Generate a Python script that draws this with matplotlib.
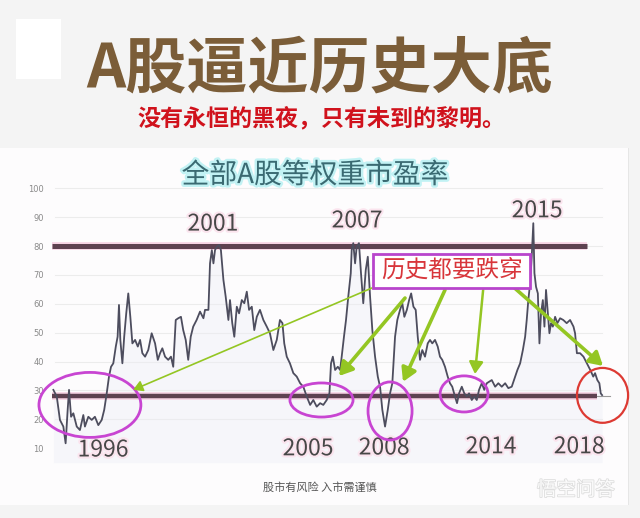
import matplotlib
matplotlib.use("Agg")
import matplotlib.pyplot as plt
import matplotlib.patheffects as pe
from matplotlib.patches import Ellipse, Rectangle

plt.rcParams['font.family'] = ['Noto Sans CJK SC', 'DejaVu Sans']

# ---- data: all-A-share equal-weight PE (decimal year, PE) ----
years = [1994.36, 1994.51, 1994.65, 1994.80, 1994.90, 1994.99, 1995.05, 1995.14, 1995.24, 1995.39,
         1995.53, 1995.68, 1995.75, 1995.90, 1996.05, 1996.19, 1996.34, 1996.49, 1996.60, 1996.71,
         1996.81, 1996.90, 1997.00, 1997.11, 1997.19, 1997.25, 1997.31, 1997.40, 1997.48, 1997.57,
         1997.66, 1997.75, 1997.84, 1997.96, 1998.08, 1998.18, 1998.28, 1998.40, 1998.54, 1998.69,
         1998.84, 1998.96, 1999.06, 1999.16, 1999.28, 1999.42, 1999.54, 1999.64, 1999.75, 1999.86,
         1999.98, 2000.08, 2000.19, 2000.30, 2000.41, 2000.52, 2000.67, 2000.82, 2000.97, 2001.04,
         2001.19, 2001.26, 2001.34, 2001.41, 2001.48, 2001.56, 2001.66, 2001.74, 2001.85, 2001.95,
         2002.07, 2002.14, 2002.24, 2002.33, 2002.44, 2002.54, 2002.66, 2002.77, 2002.88, 2002.98,
         2003.10, 2003.21, 2003.32, 2003.46, 2003.61, 2003.76, 2003.90, 2004.05, 2004.20, 2004.34,
         2004.45, 2004.53, 2004.64, 2004.78, 2004.93, 2005.08, 2005.23, 2005.37, 2005.52, 2005.67,
         2005.81, 2005.96, 2006.11, 2006.25, 2006.40, 2006.52, 2006.59, 2006.67, 2006.77, 2006.89,
         2006.99, 2007.06, 2007.16, 2007.25, 2007.35, 2007.46, 2007.50, 2007.57, 2007.65, 2007.72,
         2007.82, 2007.91, 2008.01, 2008.12, 2008.21, 2008.31, 2008.41, 2008.53, 2008.65, 2008.75,
         2008.85, 2008.97, 2009.09, 2009.19, 2009.29, 2009.41, 2009.51, 2009.63, 2009.73, 2009.82,
         2009.93, 2010.03, 2010.12, 2010.22, 2010.32, 2010.41, 2010.51, 2010.61, 2010.73, 2010.85,
         2010.95, 2011.05, 2011.17, 2011.29, 2011.39, 2011.49, 2011.61, 2011.73, 2011.83, 2011.93,
         2012.05, 2012.14, 2012.23, 2012.35, 2012.46, 2012.57, 2012.67, 2012.79, 2012.90, 2013.01,
         2013.11, 2013.23, 2013.34, 2013.45, 2013.67, 2013.82, 2013.96, 2014.11, 2014.26, 2014.40,
         2014.55, 2014.70, 2014.80, 2014.92, 2015.04, 2015.14, 2015.21, 2015.28, 2015.36, 2015.43,
         2015.50, 2015.55, 2015.62, 2015.70, 2015.77, 2015.84, 2015.92, 2015.99, 2016.06, 2016.14,
         2016.21, 2016.28, 2016.36, 2016.46, 2016.56, 2016.68, 2016.82, 2016.97, 2017.12, 2017.27,
         2017.34, 2017.42, 2017.56, 2017.71, 2017.86, 2018.01, 2018.14, 2018.22, 2018.32, 2018.41,
         2018.47, 2018.53]
pe_ratio = [30.2, 27.9, 19.8, 17.5, 11.7, 23.3, 30.2, 20.9, 22.1, 17.5,
            16.3, 21.5, 17.5, 20.9, 19.8, 20.9, 18.0, 19.8, 23.3, 29.0,
            34.8, 38.2, 39.4, 45.2, 48.6, 59.6, 47.5, 39.4, 48.6, 56.7,
            63.6, 55.5, 46.3, 47.5, 45.2, 47.5, 42.9, 41.7, 44.0, 49.8,
            46.3, 40.6, 42.9, 44.6, 41.7, 40.6, 41.7, 38.2, 54.4, 55.0,
            55.5, 50.9, 47.5, 40.6, 48.6, 52.1, 54.4, 57.3, 55.0, 57.9,
            57.9, 74.0, 78.6, 74.0, 78.6, 79.8, 80.4, 78.6, 68.3, 62.5,
            54.4, 61.3, 53.3, 48.6, 59.0, 56.7, 61.3, 60.2, 64.2, 57.9,
            59.0, 50.9, 55.5, 57.9, 54.4, 52.1, 49.8, 44.0, 47.5, 54.4,
            53.3, 46.3, 41.7, 39.4, 36.0, 34.8, 32.5, 31.3, 27.9, 25.0,
            26.7, 24.4, 25.6, 25.0, 26.7, 29.0, 39.4, 41.7, 37.1, 38.2,
            37.1, 41.7, 48.6, 54.4, 62.5, 70.6, 78.6, 81.0, 74.0, 79.8,
            81.0, 70.6, 60.2, 71.7, 76.3, 62.5, 50.9, 41.7, 34.8, 31.3,
            23.3, 17.5, 23.3, 29.0, 32.5, 48.6, 54.4, 57.9, 60.2, 55.5,
            57.9, 61.3, 63.6, 59.0, 57.9, 48.6, 40.6, 44.0, 41.7, 46.3,
            47.5, 46.3, 47.5, 45.2, 41.7, 40.6, 38.2, 34.8, 32.5, 31.3,
            27.9, 25.6, 29.0, 31.3, 29.0, 27.9, 29.0, 26.7, 27.9, 26.7,
            30.2, 32.5, 30.2, 32.5, 33.6, 31.3, 32.5, 31.3, 32.5, 30.8,
            31.3, 34.8, 37.1, 39.4, 44.0, 48.6, 54.4, 61.3, 67.1, 76.3,
            87.9, 70.6, 65.9, 63.6, 46.3, 56.7, 61.3, 52.1, 64.8, 56.7,
            49.8, 53.3, 52.1, 55.5, 53.3, 55.0, 54.4, 53.3, 54.4, 52.1,
            49.8, 42.9, 42.9, 41.7, 39.4, 37.1, 34.8, 36.0, 33.6, 32.5,
            29.0, 28.4]

yticks = [10, 20, 30, 40, 50, 60, 70, 80, 90, 100]
upper_line = 80
lower_line = 28.1
peak_labels = ["2001", "2007", "2015"]
peak_pos = [(2001.39, 87.6), (2007.74, 88.7), (2015.67, 92.2)]
bottom_labels = ["1996", "2005", "2008", "2014", "2018"]
bottom_pos = [(1996.55, 9.4), (2005.58, 9.8), (2008.93, 10.1), (2013.64, 10.5), (2017.52, 10.5)]

title = "A股逼近历史大底"
subtitle = "没有永恒的黑夜，只有未到的黎明。"
chart_title = "全部A股等权重市盈率"
box_text = "历史都要跌穿"
footer = "股市有风险 入市需谨慎"
watermark = "悟空问答"

# ---- figure ----
fig = plt.figure(figsize=(6.4, 5.18), dpi=100, facecolor="#f4f4f4")
# white chart panel
fig.patches.append(Rectangle((0, 0.025), 0.982, 0.69, transform=fig.transFigure,
                             facecolor="#fdfcfd", edgecolor="none", zorder=-10))
fig.patches.append(Rectangle((0.981, 0.025), 0.002, 0.69, transform=fig.transFigure,
                             facecolor="#e6e6e6", edgecolor="none", zorder=-10))
# white square icon top-left
fig.patches.append(Rectangle((0.025, 0.848), 0.07, 0.115, transform=fig.transFigure,
                             facecolor="#ffffff", edgecolor="none", zorder=-10))

ax = fig.add_axes([0.08125, 0.1068, 0.86875, 0.5409])
ax.set_facecolor("none")
ax.set_xlim(1994.3, 2018.79)
ax.set_ylim(5, 102)
for s in ax.spines.values():
    s.set_visible(False)
ax.set_xticks([])
ax.set_yticks(yticks)
ax.set_yticklabels([str(t) for t in yticks], fontsize=6, color="#8a8a8a",
                   family=['DejaVu Sans'])
ax.tick_params(axis='y', length=0, pad=6)
for t in yticks[1:]:
    ax.axhline(t, xmin=0.005, xmax=0.99, color="#ececec", lw=0.8, zorder=1)

ax.fill_between(years, pe_ratio, 5, color="#eceef6", alpha=0.4, lw=0, zorder=2)
ax.plot(years, pe_ratio, color="#4d4d5e", lw=1.3, zorder=4)

# horizontal bars with pink glow
glow = [pe.withStroke(linewidth=5.5, foreground="#f6d2e3")]
ax.plot([1994.3, 2017.87], [upper_line, upper_line], color="#5e4150", lw=3.6,
        solid_capstyle='butt', zorder=3, path_effects=glow)
ax.plot([1994.3, 2018.31], [lower_line, lower_line], color="#5e4150", lw=3.2,
        solid_capstyle='butt', zorder=3, path_effects=glow)
ax.plot([2018.31, 2018.88], [lower_line, lower_line], color="#9a9a9a", lw=0.8,
        zorder=3, clip_on=False)

# year labels
lab_glow = [pe.withStroke(linewidth=3, foreground="#fbe4ee")]
for lab, (x, y) in zip(peak_labels + bottom_labels, peak_pos + bottom_pos):
    ax.text(x, y, lab, ha='center', va='center', fontsize=16.5, color="#474747",
            path_effects=lab_glow, zorder=6, clip_on=False)

# ellipses
mag = "#c845d2"
ell = [((1995.97, 25.0), 4.49, 22.5), ((2006.17, 26.7), 2.78, 11.8),
       ((2009.19, 22.9), 1.94, 20.1), ((2012.45, 28.8), 2.11, 12.5)]
for c, w, h in ell:
    ax.add_patch(Ellipse(c, w, h, fill=False, edgecolor=mag, lw=2.0, zorder=7, clip_on=False))
ax.add_patch(Ellipse((2018.55, 28.3), 2.25, 19.0, fill=False, edgecolor="#dd3a33",
                     lw=1.6, zorder=7, clip_on=False))

# arrows
green = "#94c623"
arrows = [((2008.40, 65.5), (1997.87, 30.2), 1.2, 8),
          ((2009.85, 62.0), (2006.94, 35.0), 2.6, 11),
          ((2011.61, 64.8), (2009.76, 33.0), 2.6, 11),
          ((2013.29, 64.8), (2012.93, 35.7), 1.8, 10),
          ((2014.57, 66.2), (2018.57, 38.5), 2.6, 11)]
for tail, head, lw, hs in arrows:
    ax.annotate("", xy=head, xytext=tail,
                arrowprops=dict(arrowstyle=f"-|>,head_length={hs/14:.2f},head_width={hs/24:.2f}",
                                color=green, lw=lw, shrinkA=0, shrinkB=0),
                zorder=8)

# box
ax.add_patch(Rectangle((2008.44, 65.5), 6.92, 11.8, facecolor="white", edgecolor="#b845cc",
                       lw=2.0, zorder=9))
ax.text(2011.90, 71.5, box_text, ha='center', va='center', fontsize=17, color="#d8363b",
        zorder=10)

# texts
fig.text(0.5, 0.866, title, ha='center', va='center', fontsize=44, fontweight='bold',
         color="#7b5d38")
fig.text(0.503, 0.772, subtitle, ha='center', va='center', fontsize=16.6, fontweight='bold',
         color="#d0121c")
fig.text(0.492, 0.662, chart_title, ha='center', va='center', fontsize=20,
         color="#3a6a72", path_effects=[pe.withStroke(linewidth=3.5, foreground="#c2f2f4")])
fig.text(0.5, 0.058, footer, ha='center', va='center', fontsize=8, color="#555555")
fig.text(0.9, 0.054, watermark, ha='center', va='center', fontsize=14, color="#fbfbfb",
         path_effects=[pe.withStroke(linewidth=1.2, foreground="#dedede")])

fig.savefig("out.png", dpi=100, facecolor=fig.get_facecolor())
